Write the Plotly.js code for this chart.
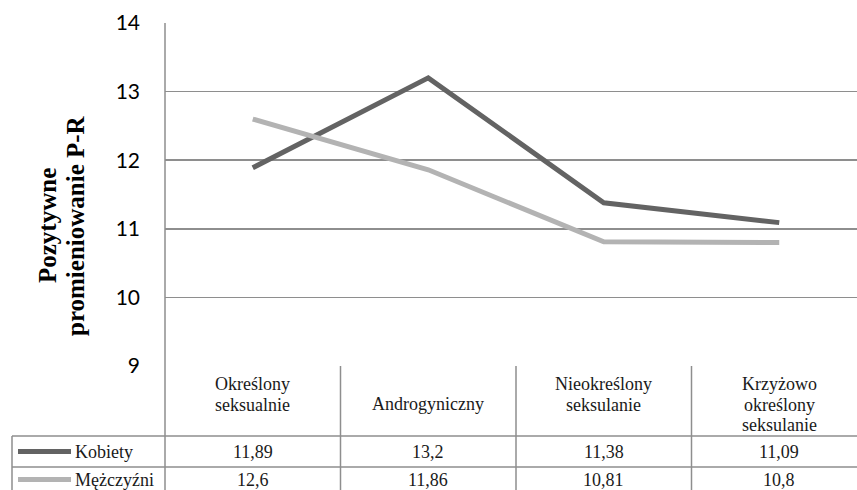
<!DOCTYPE html>
<html>
<head>
<meta charset="utf-8">
<script src="https://cdn.plot.ly/plotly-3.0.1.min.js"></script>
<style>
  html, body { margin: 0; padding: 0; overflow: hidden; background: #fff; }
  #chart { width: 867px; height: 490px; }
</style>
</head>
<body>
<div id="chart"></div>
<script>
// ---- data ----
const categories = ['Określony<br>seksualnie', 'Androgyniczny', 'Nieokreślony<br>seksulanie', 'Krzyżowo<br>określony<br>seksulanie'];
const seriesNames = ['Kobiety', 'Mężczyźni'];
const kobiety = [11.89, 13.2, 11.38, 11.09];
const mezczyzni = [12.6, 11.86, 10.81, 10.8];
const yTicks = [9, 10, 11, 12, 13, 14];
const yTitleLines = ['Pozytywne', 'promieniowanie P-R'];

// ---- layout geometry (pixels) ----
const W = 867, Hh = 490;
const M = { l: 165, r: 0, t: 23, b: 124 };
const plotW = W - M.l - M.r, plotH = Hh - M.t - M.b;
const px = x => (x - M.l) / plotW;
const py = y => (Hh - M.b - y) / plotH;

const colors = ['#636363', '#b3b3b3'];
const gridColor = '#8e8e8e';
const serif = '"Liberation Serif", "Times New Roman", serif';
const fmt = v => String(v).replace('.', ',');

const allSeries = [kobiety, mezczyzni];
const traces = allSeries.map((vals, i) => ({
  type: 'scatter', mode: 'lines',
  x: categories, y: vals, name: seriesNames[i],
  line: { color: colors[i], width: 5 },
  hoverinfo: 'skip'
}));

const rowTop = [436, 467];
const rowMid = [451.5, 479.5];
const shapes = [];
const line = (x0, y0, x1, y1, xref) => ({
  type: 'line', xref: xref || 'paper', yref: 'paper', x0, y0, x1, y1,
  line: { color: gridColor, width: 1.5 }, layer: 'above'
});

// table horizontal lines
rowTop.forEach(y => shapes.push(line(px(12), py(y), 1, py(y))));
// table left edge and extended y-axis line
shapes.push(line(px(12), py(rowTop[0]), px(12), py(505)));
shapes.push(line(0, 1, 0, py(505)));
// column borders
for (let i = 0; i < categories.length - 1; i++) {
  shapes.push(line(i + 0.5, 0, i + 0.5, py(505), 'x'));
}
// legend keys in table
seriesNames.forEach((n, i) => {
  shapes.push({ type: 'line', xref: 'paper', yref: 'paper',
    x0: px(18), x1: px(71), y0: py(rowMid[i]), y1: py(rowMid[i]),
    line: { color: colors[i], width: 5 }, layer: 'above' });
});

const tblFont = { family: serif, size: 18, color: '#1a1a1a' };
const annotations = [];
categories.forEach((c, i) => {
  const parts = c.split('<br>');
  parts.forEach((p, k) => {
    const yPix = parts.length === 1 ? 404 : 384 + k * 20.5;
    annotations.push({ xref: 'x', yref: 'paper', x: i, y: py(yPix), text: p,
      showarrow: false, xanchor: 'center', yanchor: 'middle', font: tblFont });
  });
  allSeries.forEach((vals, s) => {
    annotations.push({ xref: 'x', yref: 'paper', x: i, y: py(rowMid[s]), text: fmt(vals[i]),
      showarrow: false, xanchor: 'center', yanchor: 'middle', font: tblFont });
  });
});
seriesNames.forEach((n, i) => {
  annotations.push({ xref: 'paper', yref: 'paper', x: px(73), y: py(rowMid[i]), text: n,
    showarrow: false, xanchor: 'left', yanchor: 'middle', font: tblFont });
});
yTitleLines.forEach((t, k) => {
  annotations.push({ xref: 'paper', yref: 'paper', x: px(47 + k * 28), y: py(226), text: '<b>' + t + '</b>',
    textangle: -90, showarrow: false, xanchor: 'center', yanchor: 'middle',
    font: { family: serif, size: 25, color: '#000' } });
});

const layout = {
  width: W, height: Hh,
  margin: M,
  paper_bgcolor: '#fff', plot_bgcolor: '#fff',
  showlegend: false,
  xaxis: { type: 'category', range: [-0.5, categories.length - 0.5],
    showticklabels: false, showgrid: false, zeroline: false, ticks: '', showline: false, fixedrange: true },
  yaxis: { range: [yTicks[0], yTicks[yTicks.length - 1]], tickvals: yTicks,
    ticktext: yTicks.map(String), showgrid: true, gridcolor: gridColor, gridwidth: 1.5,
    zeroline: false, ticks: '', showline: false, ticklabelstandoff: 24,
    tickfont: { family: 'Lato, Carlito, Calibri, sans-serif', size: 21, color: '#000' }, fixedrange: true },
  shapes, annotations
};

Plotly.newPlot('chart', traces, layout, { staticPlot: true, displayModeBar: false });
</script>
</body>
</html>
